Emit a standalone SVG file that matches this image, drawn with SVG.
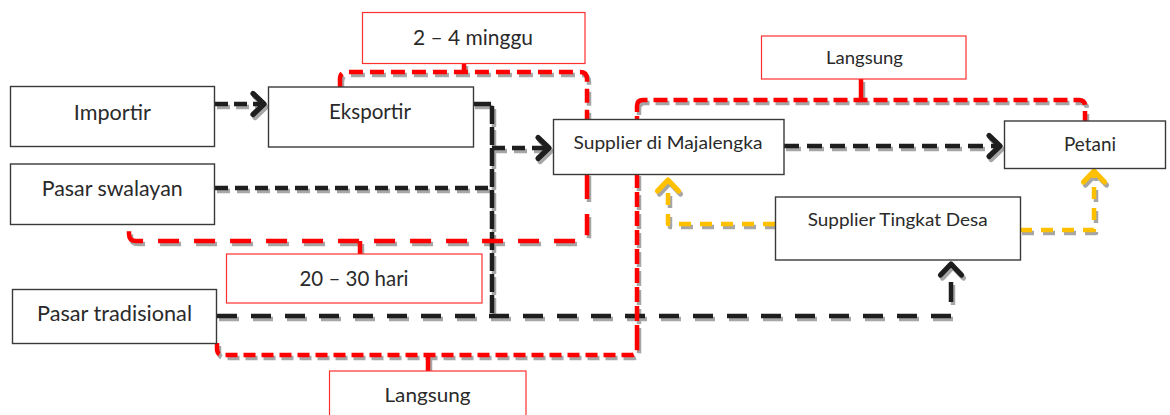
<svg xmlns="http://www.w3.org/2000/svg" xmlns:xlink="http://www.w3.org/1999/xlink" width="1170" height="415" viewBox="0 0 1170 415">
  <style>
    .node { fill: #ffffff; stroke: #3a3a3a; stroke-width: 1.4; }
    .lbl { fill: #ffffff; stroke: #ff3030; stroke-width: 1.2; }
    text { font-family: "Lato", "Carlito", "Liberation Sans", sans-serif; fill: #2a2a2a; text-anchor: middle; }
    .t21 { font-size: 21px; }
    .t19 { font-size: 19px; }
    .t18 { font-size: 18px; }
    .t17 { font-size: 17px; }
    .line { fill: none; stroke-width: 4.5; stroke-linejoin: round; }
    .shadow use { stroke: #a6a6a6; }
    .shadow use.arr { marker-end: url(#ag); }
    .k { stroke: #1e1e1e; }
    .k.arr { marker-end: url(#ak); }
    .y { stroke: #ffc000; }
    .y.arr { marker-end: url(#ay); }
    .r { stroke: #ff0000; }
  </style>
  <defs>
    <marker id="ak" markerUnits="userSpaceOnUse" viewBox="-15 -15 19 30" refX="0" refY="0" markerWidth="19" markerHeight="30" orient="auto" overflow="visible">
      <path d="M-11,-10.5 L0,0 L-11,10.5" fill="none" stroke="#1e1e1e" stroke-width="5.2" stroke-linecap="round" stroke-linejoin="round"/>
    </marker>
    <marker id="ay" markerUnits="userSpaceOnUse" viewBox="-15 -15 19 30" refX="0" refY="0" markerWidth="19" markerHeight="30" orient="auto" overflow="visible">
      <path d="M-11,-10.5 L0,0 L-11,10.5" fill="none" stroke="#ffc000" stroke-width="5.2" stroke-linecap="round" stroke-linejoin="round"/>
    </marker>
    <marker id="ag" markerUnits="userSpaceOnUse" viewBox="-15 -15 19 30" refX="0" refY="0" markerWidth="19" markerHeight="30" orient="auto" overflow="visible">
      <path d="M-11,-10.5 L0,0 L-11,10.5" fill="none" stroke="#a6a6a6" stroke-width="5.2" stroke-linecap="round" stroke-linejoin="round"/>
    </marker>

    <!-- black flows -->
    <path id="c-imp-eks" d="M215,104 H264" stroke-dasharray="13 6"/>
    <path id="c-eks-bus" d="M473,104 H492 V317" stroke-dasharray="18 3"/>
    <path id="c-bus-sup" d="M492,148 H549" stroke-dasharray="13 7"/>
    <path id="c-swa-bus" d="M215,188 H492" stroke-dasharray="13 7"/>
    <path id="c-tra-desa" d="M217,316 H951 V264" stroke-dasharray="20 14"/>
    <path id="c-sup-pet" d="M784,146 H1000" stroke-dasharray="15 8"/>
    <!-- yellow flows -->
    <path id="c-desa-sup" d="M775,224 H668 V180" stroke-dasharray="12 9"/>
    <path id="c-desa-pet" d="M1020,230 H1094 V171" stroke-dasharray="12 9"/>
    <!-- red timing loops -->
    <path id="r-a-top" d="M340,87 V79 Q340,72 347,72 H580 Q587,72 587,79 V178" stroke-dasharray="14 7"/>
    <path id="r-a-bot" d="M587,178 V234 Q587,241 580,241 H136 Q129,241 129,234 V224" stroke-dasharray="21 15"/>
    <path id="r-a-s1" d="M464,72 V63"/>
    <path id="r-a-s2" d="M360,241 V254"/>
    <path id="r-b-bot" d="M217,343 V349 Q217,355 223,355 H631 Q637,355 637,349 V340" stroke-dasharray="12 6"/>
    <path id="r-b-mid" d="M637,340 V106" stroke-dasharray="15 4"/>
    <path id="r-b-top" d="M637,106 Q637,100 643,100 H1079 Q1085,100 1085,106 V121" stroke-dasharray="14 6"/>
    <path id="r-b-s1" d="M428,355 V371"/>
    <path id="r-b-s2" d="M861,100 V79"/>
  </defs>

  <g id="connectors" class="line">
    <g class="shadow" transform="translate(2,3)">
      <use xlink:href="#r-a-top"/>
      <use xlink:href="#r-a-bot"/>
      <use xlink:href="#r-a-s1"/>
      <use xlink:href="#r-a-s2"/>
      <use xlink:href="#r-b-bot"/>
      <use xlink:href="#r-b-mid"/>
      <use xlink:href="#r-b-top"/>
      <use xlink:href="#r-b-s1"/>
      <use xlink:href="#r-b-s2"/>
      <use xlink:href="#c-imp-eks" class="arr"/>
      <use xlink:href="#c-eks-bus"/>
      <use xlink:href="#c-bus-sup" class="arr"/>
      <use xlink:href="#c-swa-bus"/>
      <use xlink:href="#c-tra-desa" class="arr"/>
      <use xlink:href="#c-sup-pet" class="arr"/>
      <use xlink:href="#c-desa-sup" class="arr"/>
      <use xlink:href="#c-desa-pet" class="arr"/>
    </g>
    <g>
      <use xlink:href="#c-imp-eks" class="k arr"/>
      <use xlink:href="#c-eks-bus" class="k"/>
      <use xlink:href="#c-bus-sup" class="k arr"/>
      <use xlink:href="#c-swa-bus" class="k"/>
      <use xlink:href="#c-tra-desa" class="k arr"/>
      <use xlink:href="#c-sup-pet" class="k arr"/>
      <use xlink:href="#c-desa-sup" class="y arr"/>
      <use xlink:href="#c-desa-pet" class="y arr"/>
      <use xlink:href="#r-a-top" class="r"/>
      <use xlink:href="#r-a-bot" class="r"/>
      <use xlink:href="#r-a-s1" class="r"/>
      <use xlink:href="#r-a-s2" class="r"/>
      <use xlink:href="#r-b-bot" class="r"/>
      <use xlink:href="#r-b-mid" class="r"/>
      <use xlink:href="#r-b-top" class="r"/>
      <use xlink:href="#r-b-s1" class="r"/>
      <use xlink:href="#r-b-s2" class="r"/>
    </g>
  </g>

  <g id="importir">
    <rect class="node" x="10.5" y="86.5" width="204" height="60"/>
    <text class="t21" x="112.3" y="120" textLength="77" lengthAdjust="spacingAndGlyphs">Importir</text>
  </g>
  <g id="eksportir">
    <rect class="node" x="268.5" y="87" width="205" height="60"/>
    <text class="t21" x="370" y="119" textLength="82" lengthAdjust="spacingAndGlyphs">Eksportir</text>
  </g>
  <g id="pasar-swalayan">
    <rect class="node" x="10.5" y="164" width="204" height="60.5"/>
    <text class="t21" x="112.2" y="196" textLength="141" lengthAdjust="spacingAndGlyphs">Pasar swalayan</text>
  </g>
  <g id="pasar-tradisional">
    <rect class="node" x="12.5" y="289.5" width="204" height="54"/>
    <text class="t21" x="114.5" y="321" textLength="155" lengthAdjust="spacingAndGlyphs">Pasar tradisional</text>
  </g>
  <g id="supplier-majalengka">
    <rect class="node" x="553.5" y="119.5" width="230.5" height="55"/>
    <text class="t18" x="668" y="149" textLength="189" lengthAdjust="spacingAndGlyphs">Supplier di Majalengka</text>
  </g>
  <g id="petani">
    <rect class="node" x="1004.5" y="121" width="161" height="47.5"/>
    <text class="t19" x="1090" y="151" textLength="52" lengthAdjust="spacingAndGlyphs">Petani</text>
  </g>
  <g id="supplier-desa">
    <rect class="node" x="775.5" y="197" width="245" height="63"/>
    <text class="t18" x="897.7" y="226" textLength="180" lengthAdjust="spacingAndGlyphs">Supplier Tingkat Desa</text>
  </g>

  <g id="label-2-4-minggu">
    <rect class="lbl" x="362.5" y="12.5" width="222.5" height="51"/>
    <text class="t21" x="473" y="45" textLength="120" lengthAdjust="spacingAndGlyphs">2 – 4 minggu</text>
  </g>
  <g id="label-langsung-atas">
    <rect class="lbl" x="761.5" y="36" width="204.5" height="43"/>
    <text class="t17" x="864.5" y="64" textLength="77" lengthAdjust="spacingAndGlyphs">Langsung</text>
  </g>
  <g id="label-20-30-hari">
    <rect class="lbl" x="226.5" y="254" width="255.5" height="49"/>
    <text class="t21" x="354" y="286" textLength="109" lengthAdjust="spacingAndGlyphs">20 – 30 hari</text>
  </g>
  <g id="label-langsung-bawah">
    <rect class="lbl" x="329.5" y="371" width="196.5" height="60"/>
    <text class="t19" x="427.5" y="402" textLength="86" lengthAdjust="spacingAndGlyphs">Langsung</text>
  </g>
</svg>
